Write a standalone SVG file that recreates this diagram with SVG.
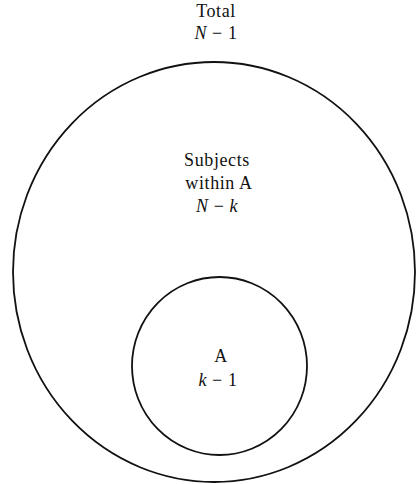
<svg xmlns="http://www.w3.org/2000/svg" width="416" height="484" viewBox="0 0 416 484">
<style>
.c{fill:none;stroke:#111;stroke-width:1.8}
.t{font-family:"Liberation Serif","Times New Roman",serif;font-size:18px;letter-spacing:0.6px;fill:#111;text-anchor:middle}
.i{font-style:italic}
</style>
<rect width="416" height="484" fill="#fff"/>
<g id="total-label">
<text class="t" x="216" y="17">Total</text>
<text class="t" x="216" y="39"><tspan class="i">N</tspan> − 1</text>
</g>
<g id="outer">
<ellipse class="c" cx="214" cy="272" rx="201" ry="210"/>
<text class="t" x="217" y="166">Subjects</text>
<text class="t" x="219" y="189">within A</text>
<text class="t" x="217" y="212"><tspan class="i">N</tspan> − <tspan class="i">k</tspan></text>
</g>
<g id="A">
<ellipse class="c" cx="219.5" cy="366" rx="87.5" ry="89"/>
<text class="t" x="221" y="362">A</text>
<text class="t" x="218" y="386"><tspan class="i">k</tspan> − 1</text>
</g>
<g id="connectors"/>
</svg>
